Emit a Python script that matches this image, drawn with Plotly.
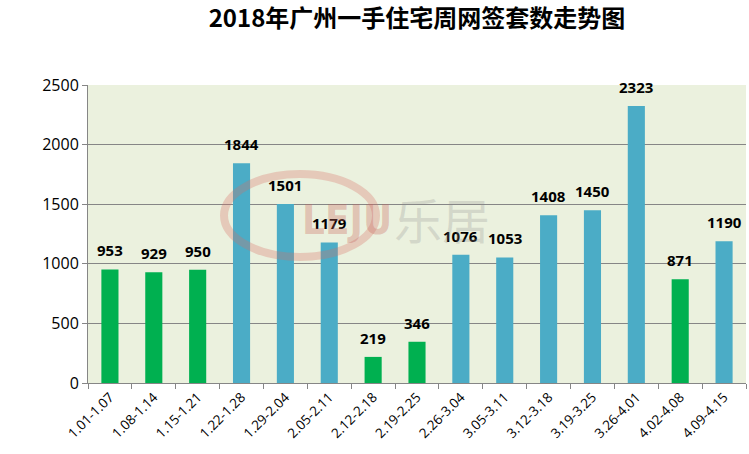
import plotly.graph_objects as go

categories = ["1.01-1.07", "1.08-1.14", "1.15-1.21", "1.22-1.28", "1.29-2.04",
              "2.05-2.11", "2.12-2.18", "2.19-2.25", "2.26-3.04", "3.05-3.11",
              "3.12-3.18", "3.19-3.25", "3.26-4.01", "4.02-4.08", "4.09-4.15"]
values = [953, 929, 950, 1844, 1501, 1179, 219, 346, 1076, 1053, 1408, 1450, 2323, 871, 1190]
is_green = [1, 1, 1, 0, 0, 0, 1, 1, 0, 0, 0, 0, 0, 1, 0]

GREEN = "#00B050"
BLUE = "#4BACC6"
colors = [GREEN if g else BLUE for g in is_green]

fig = go.Figure()
fig.add_trace(go.Bar(
    x=categories, y=values, marker=dict(color=colors, line=dict(width=0)),
))

# value labels above bars
for c, v in zip(categories, values):
    fig.add_annotation(x=c, y=v, text="<b>%d</b>" % v, showarrow=False,
                       yanchor="bottom", yshift=7,
                       font=dict(family="Open Sans", size=15, color="black"))

# watermark (LEJU logo)
fig.add_shape(type="circle", xref="paper", yref="paper",
              x0=(224 - 88) / 658, x1=(376 - 88) / 658,
              y0=(383 - 257) / 298, y1=(383 - 174) / 298,
              line=dict(color="rgba(215,110,100,0.30)", width=8), layer="above")
fig.add_annotation(xref="paper", yref="paper", x=(300 - 88) / 658, y=(383 - 220) / 298,
                   text="<b>LEJU</b>", showarrow=False,
                   font=dict(family="DejaVu Sans Condensed, DejaVu Sans", size=40,
                             color="rgba(200,100,90,0.32)"))
fig.add_annotation(xref="paper", yref="paper", x=(392 - 88) / 658, y=(383 - 218) / 298,
                   xanchor="left",
                   text="乐居", showarrow=False,
                   font=dict(family="Noto Sans CJK SC", size=48, color="rgba(140,140,140,0.25)"))

fig.update_layout(
    width=749, height=454,
    margin=dict(l=88, r=3, t=85, b=71),
    paper_bgcolor="white", plot_bgcolor="#EBF1DE",
    bargap=0.61, showlegend=False,
    title=dict(text="<b>2018年广州一手住宅周网签套数走势图</b>", x=0.5, xref="paper",
               xanchor="center", y=1 - 19 / 454, yanchor="middle",
               font=dict(family="Noto Sans CJK SC", size=24, color="black")),
)
fig.update_xaxes(
    type="category", tickangle=-45, tickson="boundaries",
    ticks="outside", ticklen=5, tickcolor="#868686",
    showline=True, linecolor="#868686", linewidth=1,
    showgrid=False,
    tickfont=dict(family="Open Sans", size=13.5, color="black"),
)
fig.update_yaxes(
    range=[0, 2500], dtick=500, ticks="outside", ticklen=5, tickcolor="#868686",
    showline=True, linecolor="#868686", linewidth=1,
    showgrid=True, gridcolor="#868686", gridwidth=1, zeroline=False,
    tickfont=dict(family="Open Sans", size=16, color="black"),
)
fig.write_html("out.html")
